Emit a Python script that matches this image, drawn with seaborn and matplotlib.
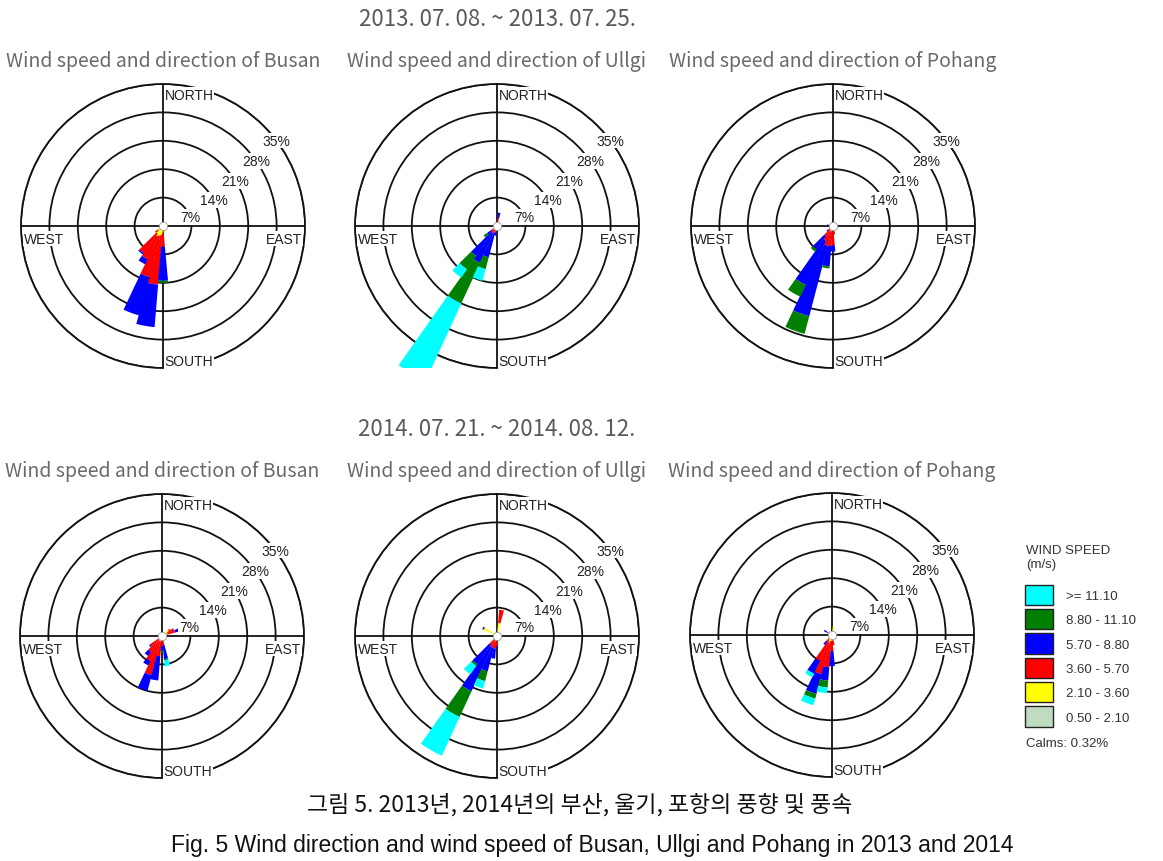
import numpy as np
import matplotlib
matplotlib.use("Agg")
import matplotlib.pyplot as plt
from matplotlib.patches import Patch
import seaborn as sns

# ---- data (frequency in %, one row per speed class, inner -> outer) ----
SPEED_CLASSES = ["0.50 - 2.10", "2.10 - 3.60", "3.60 - 5.70",
                 "5.70 - 8.80", "8.80 - 11.10", ">= 11.10"]
SPEED_COLORS = ["#c0dcc0", "#ffff00", "#ff0000", "#0000ff", "#007f00", "#00ffff"]
RINGS = [7, 14, 21, 28, 35]
RING_LABELS = ["7%", "14%", "21%", "28%", "35%"]
STATIONS = ["Busan", "Ullgi", "Pohang"]
PERIODS = ["2013. 07. 08. ~ 2013. 07. 25.", "2014. 07. 21. ~ 2014. 08. 12."]
CALMS = "Calms: 0.32%"

busan13_dir = [170, 180, 190, 200, 210, 220, 230]
busan13_freq = [
    [0.3, 0.4, 0.4, 0.4, 0.4, 0.3, 0.2],
    [0.6, 1.2, 1.8, 2.2, 2.4, 2.0, 1.2],
    [0.5, 3.5, 12.3, 10.4, 6.2, 5.9, 1.0],
    [0.0, 8.4, 10.5, 9.8, 1.4, 0.4, 0.0],
    [0.0, 0.5, 0.0, 0.0, 0.0, 0.0, 0.0],
    [0.0, 0.0, 0.0, 0.0, 0.0, 0.0, 0.0],
]

ullgi13_dir = [10, 180, 190, 200, 210, 220, 230]
ullgi13_freq = [
    [0.2, 0.2, 0.2, 0.2, 0.2, 0.2, 0.2],
    [0.5, 0.4, 0.4, 0.4, 0.4, 0.4, 0.4],
    [1.3, 0.6, 0.8, 1.2, 1.4, 1.4, 1.0],
    [1.3, 0.3, 1.0, 6.2, 8.0, 7.0, 1.4],
    [0.0, 0.0, 0.0, 3.0, 11.0, 4.0, 1.0],
    [0.0, 0.0, 0.0, 3.0, 21.0, 2.5, 0.0],
]

pohang13_dir = [170, 180, 190, 200, 210, 220, 230, 280]
pohang13_freq = [
    [0.3, 0.3, 0.3, 0.3, 0.3, 0.3, 0.2, 0.2],
    [0.8, 1.0, 1.0, 1.0, 1.0, 0.8, 0.5, 0.5],
    [1.0, 3.5, 3.7, 3.7, 2.7, 1.9, 0.8, 0.3],
    [0.0, 1.5, 5.0, 18.0, 12.0, 4.0, 0.5, 0.5],
    [0.0, 0.0, 0.5, 4.5, 3.2, 0.7, 0.0, 0.0],
    [0.0, 0.0, 0.0, 0.0, 0.0, 0.0, 0.0, 0.0],
]

busan14_dir = [50, 60, 70, 170, 180, 190, 200, 210, 220, 230]
busan14_freq = [
    [0.3, 0.3, 0.3, 0.3, 0.3, 0.3, 0.3, 0.3, 0.3, 0.3],
    [1.8, 1.2, 1.0, 0.7, 0.8, 1.0, 1.0, 1.0, 0.9, 0.8],
    [0.4, 1.8, 2.0, 1.2, 1.5, 3.7, 8.7, 5.5, 3.5, 2.5],
    [0.0, 0.0, 3.0, 3.5, 1.0, 6.0, 4.0, 1.2, 1.3, 0.3],
    [0.0, 0.0, 0.0, 0.3, 0.5, 0.0, 0.0, 0.0, 0.0, 0.0],
    [0.0, 0.0, 0.0, 1.5, 0.0, 0.0, 0.0, 0.0, 0.0, 0.0],
]

ullgi14_dir = [10, 180, 190, 200, 210, 220, 300]
ullgi14_freq = [
    [0.3, 0.3, 0.3, 0.3, 0.3, 0.3, 0.3],
    [2.9, 0.8, 0.8, 0.7, 0.7, 0.7, 3.3],
    [3.3, 1.5, 2.0, 2.0, 2.0, 1.5, 0.1],
    [0.0, 0.4, 2.5, 6.0, 12.0, 6.0, 0.3],
    [0.0, 0.0, 0.0, 2.5, 7.0, 0.5, 0.0],
    [0.0, 0.0, 0.0, 1.9, 10.5, 2.5, 0.0],
]

pohang14_dir = [10, 170, 180, 190, 200, 210, 220, 300]
pohang14_freq = [
    [0.3, 0.3, 0.3, 0.3, 0.3, 0.3, 0.3, 0.2],
    [1.8, 1.0, 1.2, 1.2, 1.7, 1.2, 0.7, 0.6],
    [0.0, 1.2, 2.5, 6.5, 8.0, 5.5, 1.0, 0.4],
    [0.0, 0.0, 3.7, 3.3, 5.0, 3.5, 1.0, 1.0],
    [0.0, 0.0, 0.0, 1.7, 1.2, 0.0, 0.0, 0.0],
    [0.0, 0.0, 0.0, 1.4, 1.7, 1.0, 0.0, 0.0],
]

# ---- layout ----
W, H = 1163, 862
R = 142  # rose radius in px
CENTERS = [[(163, 227), (497, 227), (833, 227)],
           [(162, 637), (497, 637), (832, 636)]]
PANELS = [[(busan13_dir, busan13_freq), (ullgi13_dir, ullgi13_freq), (pohang13_dir, pohang13_freq)],
          [(busan14_dir, busan14_freq), (ullgi14_dir, ullgi14_freq), (pohang14_dir, pohang14_freq)]]
LABEL_ANGLES = [72, 63, 58, 55, 53]
KR_FONT = ["Noto Sans CJK KR", "DejaVu Sans"]

sns.set_theme(style="white")
plt.rcParams["font.family"] = ["Liberation Sans", "Noto Sans CJK KR", "DejaVu Sans"]

fig = plt.figure(figsize=(W / 100, H / 100), dpi=100)
fig.patch.set_facecolor("white")


def draw_rose(ax, dirs, freq):
    ax.set_theta_zero_location("N")
    ax.set_theta_direction(-1)
    theta = np.radians(dirs)
    bottom = np.zeros(len(dirs))
    for vals, color in zip(freq, SPEED_COLORS):
        bars = ax.bar(theta, vals, width=np.radians(10.5), bottom=bottom,
                      color=color, linewidth=0, zorder=3)
        # petals longer than the outer ring are cut by the panel box, not the circle
        for b in bars:
            b.set_clip_path(None)
            b.set_clip_box(ax.bbox)
        bottom = bottom + np.array(vals)

    ax.set_ylim(0, 35)
    ax.set_yticks(RINGS)
    ax.set_yticklabels([])
    ax.set_xticks(np.radians([0, 90, 180, 270]))
    ax.set_xticklabels([])
    ax.grid(True, color="#111111", linewidth=1.3)
    ax.spines["polar"].set_color("#111111")
    ax.spines["polar"].set_linewidth(1.3)
    ax.set_axisbelow(True)

    txt = dict(fontsize=10, color="#222222", zorder=6,
               bbox=dict(facecolor="white", edgecolor="none", pad=0.6))
    for r, lab, a in zip(RINGS, RING_LABELS, LABEL_ANGLES):
        ax.text(np.radians(a), r, lab, ha="center", va="center", **txt)
    ax.annotate("NORTH", xy=(0, 35), xytext=(1, -3), textcoords="offset points",
                ha="left", va="top", **txt)
    ax.annotate("SOUTH", xy=(np.pi, 35), xytext=(1, 0), textcoords="offset points",
                ha="left", va="bottom", **txt)
    ax.annotate("WEST", xy=(np.radians(270), 35), xytext=(2, -4), textcoords="offset points",
                ha="left", va="top", **txt)
    ax.annotate("EAST", xy=(np.radians(90), 35), xytext=(-2, -4), textcoords="offset points",
                ha="right", va="top", **txt)
    ax.plot(0, 0, "o", ms=6, mfc="white", mec="#999999", mew=0.6, zorder=7)


for row in range(2):
    for col in range(3):
        cx, cy = CENTERS[row][col]
        ax = fig.add_axes([(cx - R) / W, 1 - (cy + R) / H, 2 * R / W, 2 * R / H],
                          projection="polar")
        dirs, freq = PANELS[row][col]
        draw_rose(ax, dirs, freq)
        fig.text(cx / W, 1 - (cy - 165) / H, f"Wind speed and direction of {STATIONS[col]}",
                 ha="center", va="center", fontsize=14, color="#6a6a6a", family=KR_FONT)
    fig.text(497 / W, 1 - (20 + 410 * row) / H, PERIODS[row], ha="center", va="center",
             fontsize=16, color="#5a5a5a", family=KR_FONT)

# legend
fig.text(1026 / W, 1 - 545 / H, "WIND SPEED\n(m/s)", ha="left", va="top",
         fontsize=9.5, color="#333333", linespacing=1.25)
handles = [Patch(facecolor=c, edgecolor="#222222", linewidth=1.0)
           for c in SPEED_COLORS[::-1]]
leg = fig.legend(handles, SPEED_CLASSES[::-1], loc="upper left",
                 bbox_to_anchor=(1018 / W, 1 - 579 / H), frameon=False,
                 fontsize=9.5, handlelength=2.15, handleheight=2.0,
                 handletextpad=1.0, labelspacing=0.3, borderpad=0)
for t in leg.get_texts():
    t.set_color("#333333")
fig.text(1026 / W, 1 - 744 / H, CALMS, ha="left", va="center", fontsize=9.5, color="#333333")

# caption
fig.text(580 / W, 1 - 805 / H, "그림 5. 2013년, 2014년의 부산, 울기, 포항의 풍향 및 풍속",
         ha="center", va="center", fontsize=16.5, color="#111111", family=KR_FONT)
fig.text(592 / W, 1 - 846 / H,
         "Fig. 5 Wind direction and wind speed of Busan, Ullgi and Pohang in 2013 and 2014",
         ha="center", va="center", fontsize=16.5, color="#111111")

fig.savefig("out.png", dpi=100)
